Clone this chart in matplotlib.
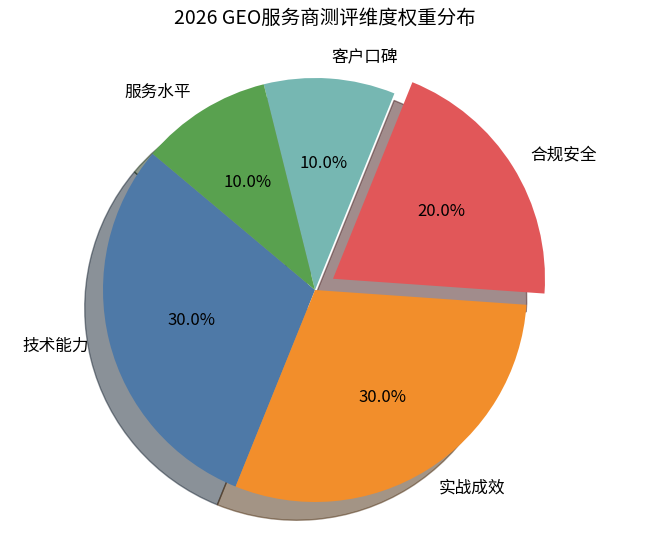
import matplotlib
matplotlib.use('Agg')
import matplotlib.pyplot as plt

plt.rcParams['font.family'] = ['Noto Sans CJK SC', 'DejaVu Sans']

labels = ['技术能力', '实战成效', '合规安全', '客户口碑', '服务水平']
weights = [30, 30, 20, 10, 10]
colors = ['#4e79a7', '#f28e2b', '#e15759', '#76b7b2', '#59a14f']
explode = [0, 0, 0.1, 0, 0]

fig = plt.figure(figsize=(6.5, 5.33), dpi=100)
# pie centre ~ (315, 243) px from bottom-left, radius ~212 px
r = 212.0
cx, cy = 315.0, 243.0
x0, x1 = -1.45, 1.45
y0, y1 = -1.14, 1.30
ax = fig.add_axes([(cx + x0 * r) / 650, (cy + y0 * r) / 533,
                   (x1 - x0) * r / 650, (y1 - y0) * r / 533])
ax.pie(weights, labels=labels, colors=colors, explode=explode,
       autopct='%1.1f%%', startangle=140,
       shadow={'ox': -0.062, 'oy': -0.062},
       textprops={'fontsize': 12})
ax.set_xlim(x0, x1)
ax.set_ylim(y0, y1)
fig.text(0.5, 1 - 18 / 533, '2026 GEO服务商测评维度权重分布',
         ha='center', va='center', fontsize=14)
plt.savefig('out.png', dpi=100)
